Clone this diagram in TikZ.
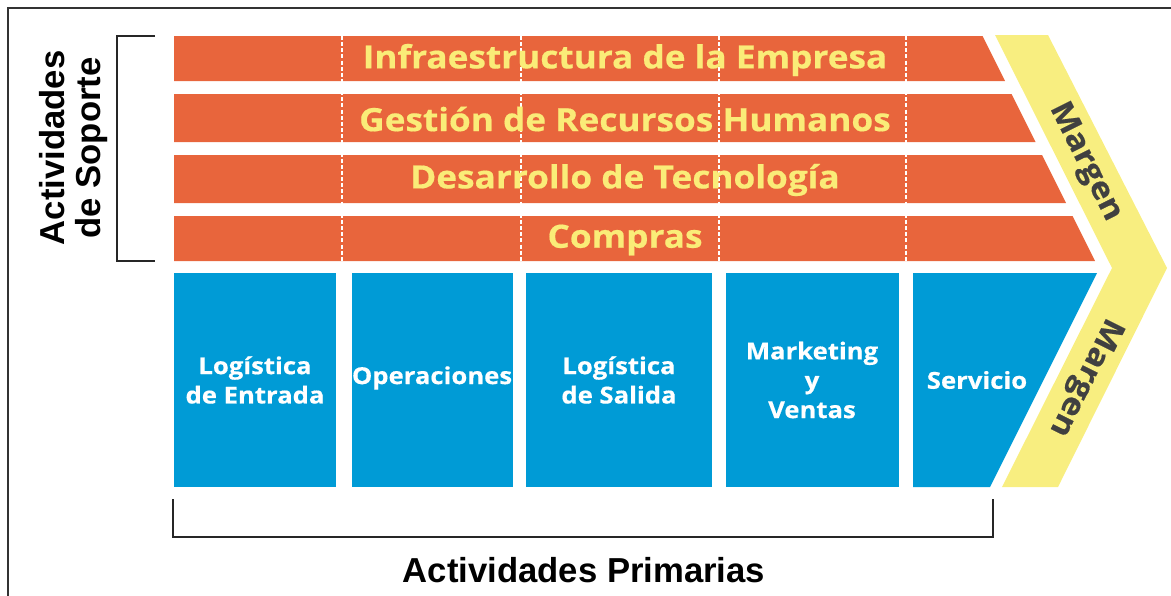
\documentclass[tikz,border=0pt]{standalone}
\usepackage{fontspec}
\setmainfont{Liberation Sans}
\newfontfamily\barfont{Open Sans}[FakeStretch=1.1,FakeBold=0.5]
\usepackage{tikz}

\definecolor{vcorange}{RGB}{232,101,60}
\definecolor{vcblue}{RGB}{0,155,214}
\definecolor{vcyellow}{RGB}{248,238,128}
\definecolor{vctext}{RGB}{250,236,120}
\definecolor{vcgray}{RGB}{64,64,64}

\tikzset{
  barbox/.style={fill=vcorange},
  primbox/.style={fill=vcblue},
  sepline/.style={white, line width=1.2pt, dash pattern=on 3pt off 1.6pt},
  bracket/.style={line width=2.2pt, color=black!85},
  bartext/.style={inner sep=0pt, text=vctext, font=\barfont\bfseries\fontsize{24}{28}\selectfont},
  primtext/.style={inner sep=0pt, text=white, align=center, font=\barfont\bfseries\fontsize{17.5}{22}\selectfont},
  margentext/.style={inner sep=0pt, text=vcgray, font=\barfont\bfseries\fontsize{23}{26}\selectfont},
  labeltext/.style={inner sep=0pt, align=center, font=\bfseries\fontsize{26}{27}\selectfont}
}

\begin{document}
\begin{tikzpicture}[x=0.75pt,y=0.75pt,yscale=-1,xscale=1]
\useasboundingbox (0,0) rectangle (1171,596);

% Frame
\draw [line width=1.5pt, color=black!80] (8,596) -- (8,8) -- (1171,8) ;

% Support bars
\fill [barbox] (174,36) -- (982.5,36) -- (1005,81) -- (174,81) -- cycle ;
\fill [barbox] (174,94) -- (1011.5,94) -- (1035.5,142) -- (174,142) -- cycle ;
\fill [barbox] (174,155) -- (1042,155) -- (1066,203) -- (174,203) -- cycle ;
\fill [barbox] (174,216) -- (1072.5,216) -- (1095,261) -- (174,261) -- cycle ;

% Dashed separators
\foreach \xs in {342,521,719,906}
  \draw [sepline] (\xs,36) -- (\xs,261) ;

% Margin chevron
\fill [vcyellow] (995,35) -- (1048,35) -- (1167,268) -- (1058,487) -- (1002,487) -- (1112,268) -- cycle ;

% Primary boxes
\fill [primbox] (174,273) rectangle (336,487) ;
\fill [primbox] (352,273) rectangle (513,487) ;
\fill [primbox] (526,273) rectangle (712,487) ;
\fill [primbox] (726,273) rectangle (899,487) ;
\fill [primbox] (913,273) -- (1097,273) -- (990,487) -- (913,487) -- cycle ;

% Text Node
\node [bartext] (infra) at (625,60) {Infraestructura de la Empresa};
% Text Node
\node [bartext] (rrhh) at (625,119) {Gestión de Recursos Humanos};
% Text Node
\node [bartext] (tecno) at (625,180) {Desarrollo de Tecnología};
% Text Node
\node [bartext] (compras) at (625,240) {Compras};

% Text Node
\node [primtext] (logent) at (255,380) {Logística\\de Entrada};
% Text Node
\node [primtext] (ops) at (432,378) {Operaciones};
% Text Node
\node [primtext] (logsal) at (619,380) {Logística\\de Salida};
% Text Node
\node [primtext] (mkt) at (812,380) {Marketing\\y\\Ventas};
% Text Node
\node [primtext] (serv) at (977,380) {Servicio};

% Text Node
\node [margentext, rotate=-63.4] (margensup) at (1085,162) {Margen};
% Text Node
\node [margentext, rotate=-116.6] (margeninf) at (1085,377) {Margen};

% Brackets
\draw [bracket] (155,36) -- (117,36) -- (117,261) -- (155,261) ;
\draw [bracket] (173,499) -- (173,537) -- (993,537) -- (993,499) ;

% Text Node
\node [labeltext, rotate=90] (soporte) at (74,148) {Actividades\\de Soporte};
% Text Node
\node [labeltext] (primarias) at (584,570) {Actividades Primarias};

\end{tikzpicture}
\end{document}
